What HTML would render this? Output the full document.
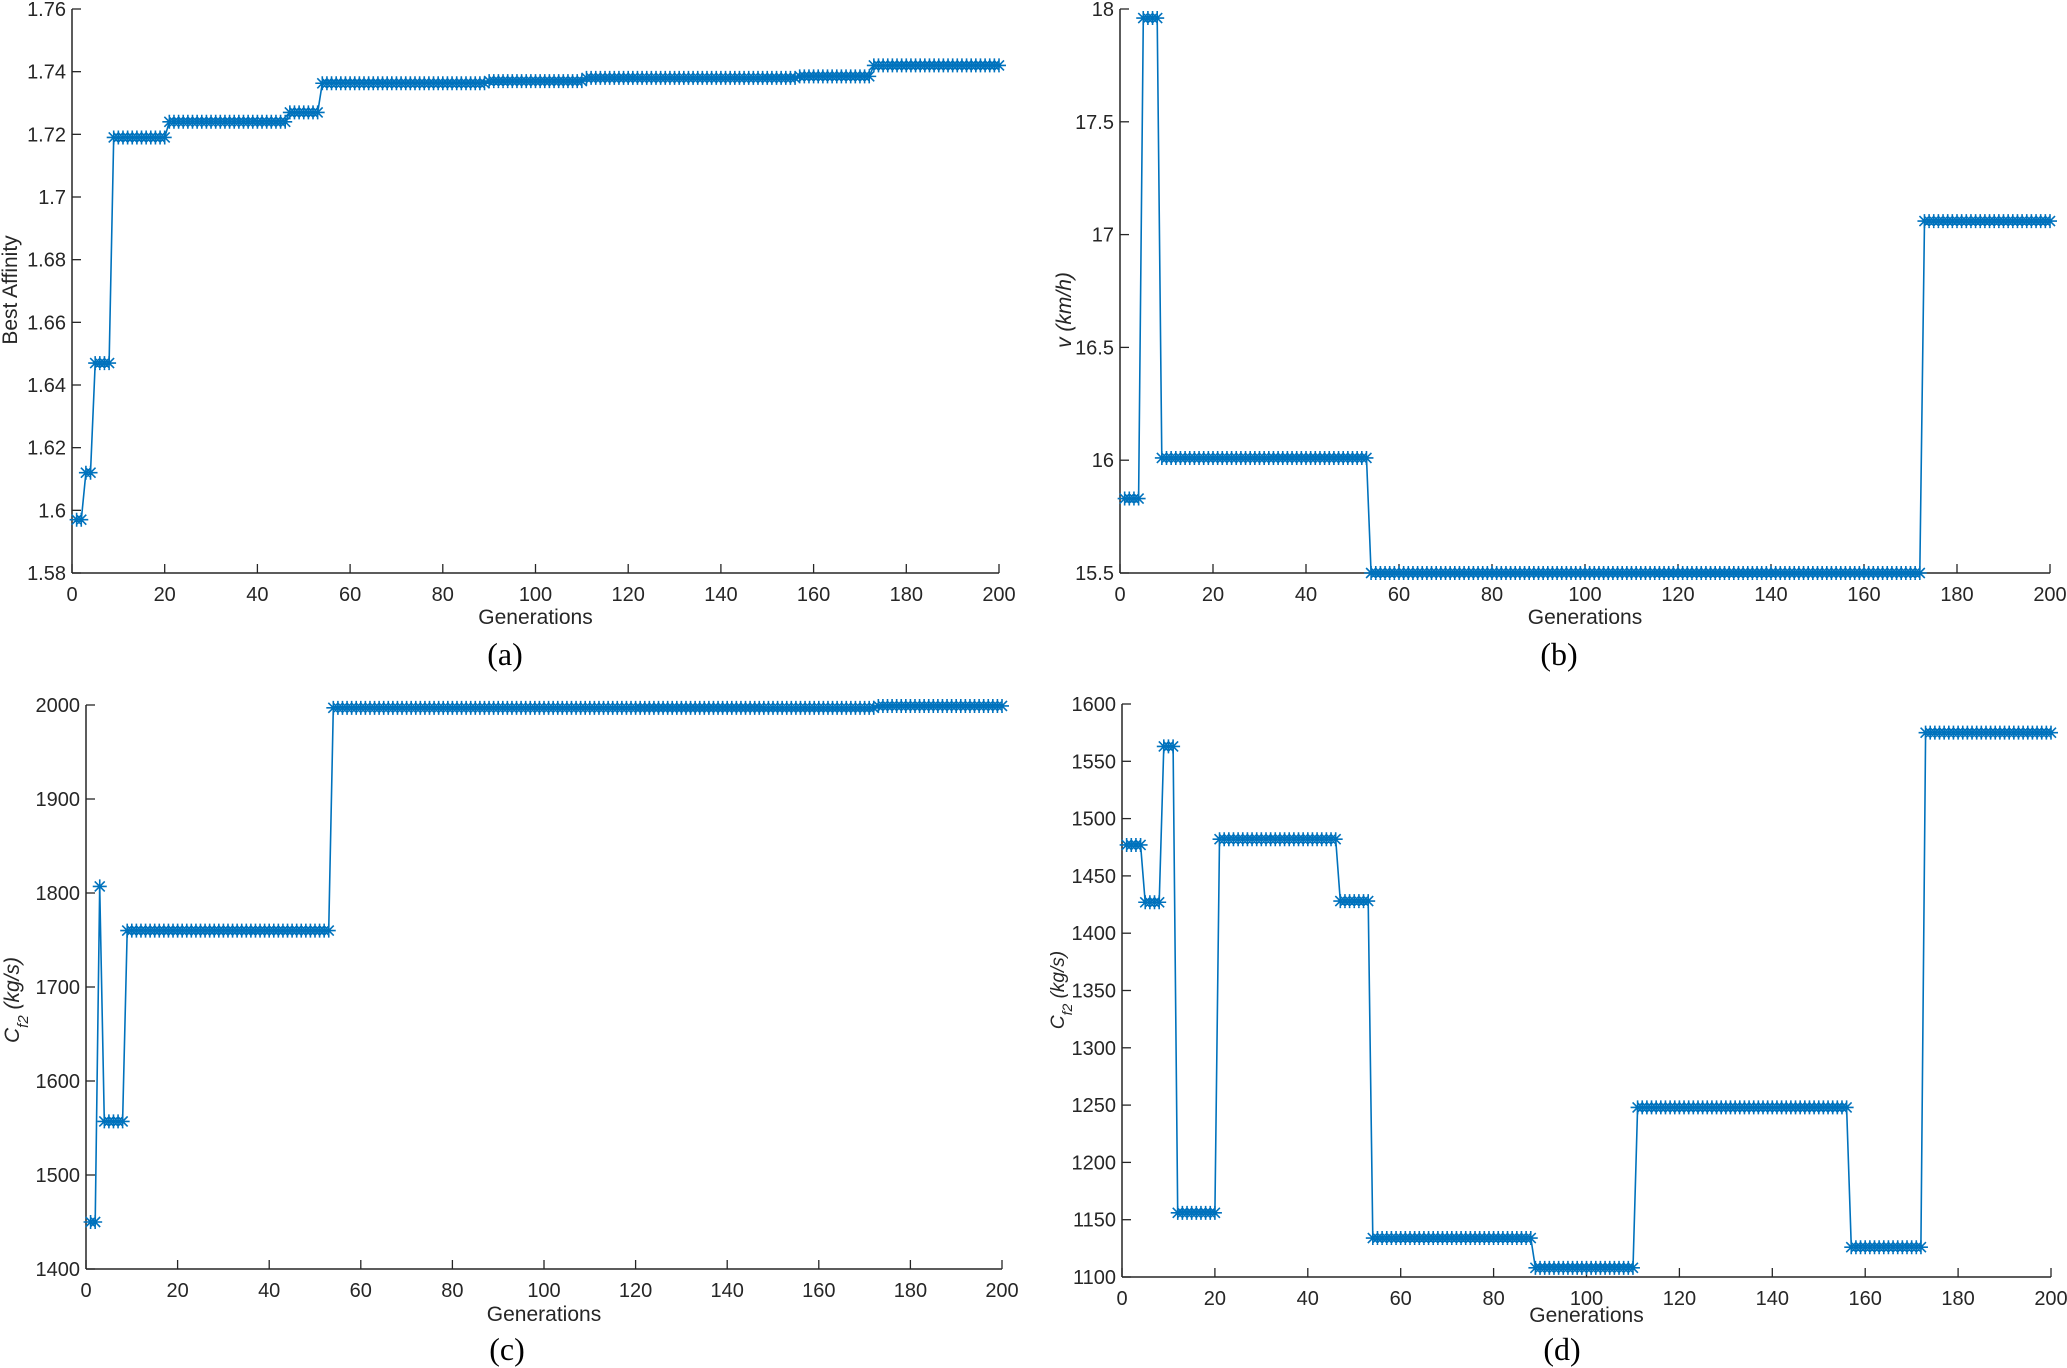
<!DOCTYPE html>
<html><head><meta charset="utf-8"><style>
html,body{margin:0;padding:0;background:#fff}
svg{display:block}
text{font-family:"Liberation Sans",Arial,sans-serif;fill:#262626}
</style></head><body>
<svg id="s" width="2067" height="1368" viewBox="0 0 2067 1368" xmlns="http://www.w3.org/2000/svg">
<g id="g"></g>
<text x="505" y="665" font-size="32" text-anchor="middle" style="font-family:'Liberation Serif',serif;fill:#000">(a)</text>
<text x="1559" y="665" font-size="32" text-anchor="middle" style="font-family:'Liberation Serif',serif;fill:#000">(b)</text>
<text x="507" y="1360" font-size="32" text-anchor="middle" style="font-family:'Liberation Serif',serif;fill:#000">(c)</text>
<text x="1562" y="1360" font-size="32" text-anchor="middle" style="font-family:'Liberation Serif',serif;fill:#000">(d)</text>
<text transform="translate(17,290) rotate(-90)" font-size="21" text-anchor="middle">Best Affinity</text>
<text transform="translate(1071,310) rotate(-90)" font-size="21" text-anchor="middle" font-style="italic">v (km/h)</text>
<text transform="translate(19,1000) rotate(-90)" font-size="21" text-anchor="middle" font-style="italic">C<tspan baseline-shift="sub" font-size="15">f2</tspan> (kg/s)</text>
<text transform="translate(1064,990) rotate(-90)" font-size="19" text-anchor="middle" font-style="italic">C<tspan baseline-shift="sub" font-size="14">f2</tspan> (kg/s)</text>
</svg>
<script>
const NS="http://www.w3.org/2000/svg",G=document.getElementById('g');
function el(t,a,txt){const e=document.createElementNS(NS,t);for(const k in a)e.setAttribute(k,a[k]);if(txt!==undefined)e.textContent=txt;G.appendChild(e);return e;}
function seg(spec){const v=[];for(const [a,b,val] of spec)for(let i=a;i<=b;i++)v[i]=val;return v;}
function panel(o){
 const {x0,x1,yb,yt,ymin,ymax,yticks,fmt,data,gy}=o;
 const X=g=>x0+(x1-x0)*g/200, Y=v=>yb-(yb-yt)*(v-ymin)/(ymax-ymin);
 el('line',{x1:x0,y1:yt,x2:x0,y2:yb,stroke:'#262626','stroke-width':1.5});
 el('line',{x1:x0,y1:yb,x2:x1,y2:yb,stroke:'#262626','stroke-width':1.5});
 for(let g=0;g<=200;g+=20){const x=X(g);el('line',{x1:x,y1:yb,x2:x,y2:yb-9,stroke:'#262626','stroke-width':1.3});
  el('text',{x:x,y:yb+28,'font-size':20,'text-anchor':'middle'},String(g));}
 for(const t of yticks){const y=Y(t);el('line',{x1:x0,y1:y,x2:x0+9,y2:y,stroke:'#262626','stroke-width':1.3});
  el('text',{x:x0-6,y:y+7,'font-size':20,'text-anchor':'end'},fmt(t));}
 el('text',{x:(x0+x1)/2,y:gy,'font-size':21,'text-anchor':'middle'},'Generations');
 let d='',m='';
 for(let i=1;i<=200;i++){const x=X(i),y=Y(data[i]);d+=(i==1?'M':'L')+x.toFixed(1)+' '+y.toFixed(1);
  const r=7,q=5;m+=`M${x-r} ${y}h${2*r}M${x} ${y-r}v${2*r}M${x-q} ${y-q}l${2*q} ${2*q}M${x-q} ${y+q}l${2*q} ${-2*q}`;}
 el('path',{d:d,fill:'none',stroke:'#0072BD','stroke-width':1.6});
 el('path',{d:m,fill:'none',stroke:'#0072BD','stroke-width':1.6});
}
panel({x0:72,x1:999,yb:573,yt:9,ymin:1.58,ymax:1.76,gy:624,
 yticks:[1.58,1.6,1.62,1.64,1.66,1.68,1.7,1.72,1.74,1.76],fmt:t=>String(+t.toFixed(2)),
 data:seg([[1,2,1.597],[3,4,1.612],[5,8,1.647],[9,20,1.719],[21,46,1.724],[47,53,1.727],[54,89,1.7363],[90,110,1.737],[111,156,1.738],[157,172,1.7385],[173,200,1.742]])});
panel({x0:1120,x1:2050,yb:573,yt:9,ymin:15.5,ymax:18,gy:624,
 yticks:[15.5,16,16.5,17,17.5,18],fmt:t=>String(t),
 data:seg([[1,4,15.83],[5,8,17.96],[9,53,16.01],[54,172,15.5],[173,200,17.06]])});
panel({x0:86,x1:1002,yb:1269,yt:705,ymin:1400,ymax:2000,gy:1321,
 yticks:[1400,1500,1600,1700,1800,1900,2000],fmt:t=>String(t),
 data:seg([[1,2,1450],[3,3,1807],[4,8,1557],[9,53,1760],[54,172,1997],[173,200,1999]])});
panel({x0:1122,x1:2051,yb:1277,yt:704,ymin:1100,ymax:1600,gy:1322,
 yticks:[1100,1150,1200,1250,1300,1350,1400,1450,1500,1550,1600],fmt:t=>String(t),
 data:seg([[1,4,1477],[5,8,1427],[9,11,1563],[12,20,1156],[21,46,1482],[47,53,1428],[54,88,1134],[89,110,1108],[111,156,1248],[157,172,1126],[173,200,1575]])});
</script>
</body></html>
